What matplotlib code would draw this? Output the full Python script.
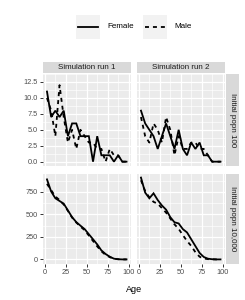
import matplotlib
matplotlib.use("Agg")
import matplotlib.pyplot as plt
from matplotlib.patches import Rectangle
from matplotlib.lines import Line2D
import numpy as np

plt.rcParams['font.family'] = ['Liberation Sans', 'DejaVu Sans']

# ---- data ----
age = [2.5, 7.5, 12.5, 17.5, 22.5, 27.5, 32.5, 37.5, 42.5, 47.5,
       52.5, 57.5, 62.5, 67.5, 72.5, 77.5, 82.5, 87.5, 92.5, 97.5]
runs = ['Simulation run 1', 'Simulation run 2']
popns = ['Initial popn 100', 'Initial popn 10,000']
sexes = ['Female', 'Male']

female_100_run1 = [11, 7, 8, 7, 8, 4, 6, 6, 4, 4, 4, 0, 4, 1, 1, 1, 0, 1, 0, 0]
male_100_run1 = [10, 8, 4, 12, 7, 3, 5, 2, 5, 4, 3, 3, 2, 2, 0, 2, 1, 1, 0, 0]
female_100_run2 = [8, 6, 5, 4, 2, 4, 6, 4, 2, 5, 2, 1, 3, 2, 3, 1, 1, 0, 0, 0]
male_100_run2 = [7, 4, 3, 6, 5, 3, 7, 5, 1, 4, 2, 2, 3, 3, 2, 2, 1, 0, 0, 0]

female_10k_run1 = [890, 755, 680, 650, 620, 545, 470, 415, 375, 337,
                   280, 224, 167, 100, 60, 30, 8, 2, 0, 0]
male_10k_run1 = [840, 770, 700, 660, 610, 540, 465, 410, 365, 325,
                 265, 205, 145, 90, 50, 25, 8, 2, 0, 0]
female_10k_run2 = [910, 743, 680, 735, 660, 600, 553, 470, 413, 400,
                   337, 300, 224, 148, 72, 27, 8, 2, 0, 0]
male_10k_run2 = [880, 760, 690, 640, 620, 570, 520, 455, 390, 340,
                 270, 205, 150, 80, 30, 10, 3, 1, 0, 0]

counts = {
    ('Initial popn 100', 'Simulation run 1'): (female_100_run1, male_100_run1),
    ('Initial popn 100', 'Simulation run 2'): (female_100_run2, male_100_run2),
    ('Initial popn 10,000', 'Simulation run 1'): (female_10k_run1, male_10k_run1),
    ('Initial popn 10,000', 'Simulation run 2'): (female_10k_run2, male_10k_run2),
}

x_ticks = [0, 25, 50, 75, 100]
y_ticks = {'Initial popn 100': [0, 2.5, 5, 7.5, 10, 12.5],
           'Initial popn 10,000': [0, 250, 500, 750]}
y_labels = {'Initial popn 100': ['0.0', '2.5', '5.0', '7.5', '10.0', '12.5'],
            'Initial popn 10,000': ['0', '250', '500', '750']}

# ---- layout (pixels) ----
W, H = 245, 300
fig = plt.figure(figsize=(W / 100, H / 100), dpi=100)

def px_axes(x0, y0, x1, y1, **kw):
    return fig.add_axes([x0 / W, 1 - y1 / H, (x1 - x0) / W, (y1 - y0) / H], **kw)

col_x = [(43, 130.5), (137, 224.5)]
row_y = [(74, 165.5), (173.5, 263.5)]
styles = {'Female': '-', 'Male': (0, (2.2, 2.2))}
grey_txt = '#4D4D4D'

def expand(lo, hi):
    d = (hi - lo) * 0.05
    return lo - d, hi + d

for i, popn in enumerate(popns):
    for j, run in enumerate(runs):
        x0, x1 = col_x[j]
        y0, y1 = row_y[i]
        ax = px_axes(x0, y0, x1, y1)
        ax.set_facecolor('#EBEBEB')
        for s in ax.spines.values():
            s.set_visible(False)
        fem, mal = counts[(popn, run)]
        ax.plot(age, fem, color='black', lw=1.3, ls=styles['Female'],
                solid_joinstyle='miter')
        ax.plot(age, mal, color='black', lw=1.3, ls=styles['Male'])
        ax.set_xlim(*expand(min(age), max(age)))
        ymax = max(max(c[0] + c[1]) for k, c in counts.items() if k[0] == popn)
        ax.set_ylim(*expand(0, ymax))
        ax.set_xticks(x_ticks)
        ax.set_xticks([12.5, 37.5, 62.5, 87.5], minor=True)
        yt = y_ticks[popn]
        ax.set_yticks(yt)
        ax.set_yticks([(a + b) / 2 for a, b in zip(yt[:-1], yt[1:])] +
                      [yt[-1] + (yt[1] - yt[0]) / 2], minor=True)
        ax.grid(which='major', color='white', lw=0.9)
        ax.grid(which='minor', color='white', lw=0.45)
        ax.set_axisbelow(True)
        ax.tick_params(which='minor', length=0)
        ax.tick_params(which='major', length=2.2, width=0.7, color='#333333',
                       labelsize=5.3, labelcolor=grey_txt, pad=1.5)
        if j == 0:
            ax.set_yticklabels(y_labels[popn])
        else:
            ax.tick_params(axis='y', length=0, labelleft=False)
        if i == 1:
            ax.set_xticklabels([str(t) for t in x_ticks])
        else:
            ax.tick_params(axis='x', length=0, labelbottom=False)

# strips
for j, run in enumerate(runs):
    x0, x1 = col_x[j]
    sa = px_axes(x0, 62, x1, 73)
    sa.set_facecolor('#D9D9D9')
    sa.set_xticks([]); sa.set_yticks([])
    for s in sa.spines.values():
        s.set_visible(False)
    sa.text(0.5, 0.5, run, ha='center', va='center', fontsize=5.8,
            color='#1A1A1A', transform=sa.transAxes)
for i, popn in enumerate(popns):
    y0, y1 = row_y[i]
    sa = px_axes(226, y0, 239, y1)
    sa.set_facecolor('#D9D9D9')
    sa.set_xticks([]); sa.set_yticks([])
    for s in sa.spines.values():
        s.set_visible(False)
    sa.text(0.5, 0.5, popn, ha='center', va='center', fontsize=5.8,
            rotation=-90, color='#1A1A1A', transform=sa.transAxes)

# axis title
fig.text((43 + 224.5) / 2 / W, 1 - 290 / H, 'Age', ha='center', va='center',
         fontsize=6.5, color='black')

# legend
lg = px_axes(0, 0, W, H)
lg.set_xlim(0, W); lg.set_ylim(H, 0)
lg.axis('off')
lg.patch.set_alpha(0)
key_x = {'Female': 76, 'Male': 143}
for sex in sexes:
    kx = key_x[sex]
    lg.add_patch(Rectangle((kx, 15), 24, 24, facecolor='#F2F2F2', edgecolor='none'))
    lg.add_line(Line2D([kx + 2, kx + 22], [27, 27], color='black', lw=1.3,
                       ls=styles[sex]))
    lg.text(kx + 31, 27, sex, ha='left', va='center', fontsize=5.8, color='black')

fig.savefig('out.png', dpi=100)
